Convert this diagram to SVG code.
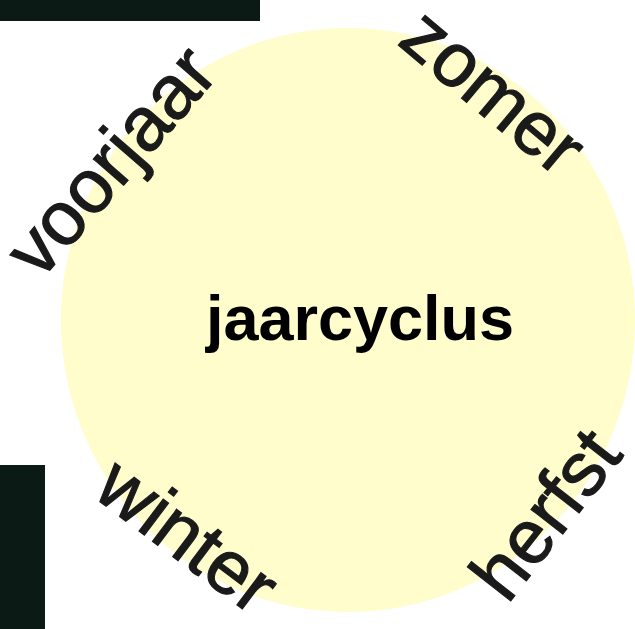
<svg xmlns="http://www.w3.org/2000/svg" width="635" height="629" viewBox="0 0 635 629">
<style>
.lbl{font-family:"Liberation Sans",Arial,sans-serif;font-size:76px;fill:#1a1a1a;stroke:#1a1a1a;stroke-width:1.2px;text-anchor:middle}
.title{font-family:"Liberation Sans",Arial,sans-serif;font-size:63px;font-weight:bold;fill:#000;text-anchor:middle}
.dark{fill:#0b1a15}
</style>
<rect width="635" height="629" fill="#ffffff"/>
<rect class="dark" x="0" y="0" width="260" height="21"/>
<rect class="dark" x="0" y="465" width="45" height="164"/>
<g id="cycle">
<ellipse cx="348" cy="320" rx="287" ry="292" fill="#fefdcb"/>
<text class="title" x="360" y="340">jaarcyclus</text>
</g>
<g id="voorjaar"><text class="lbl" transform="translate(130,178) rotate(-49)">voorjaar</text></g>
<g id="zomer"><text class="lbl" transform="translate(477,111) rotate(40)">zomer</text></g>
<g id="herfst"><text class="lbl" transform="translate(566,530) rotate(-52)">herfst</text></g>
<g id="winter"><text class="lbl" transform="translate(172,556) rotate(37)">winter</text></g>
<g id="connectors"></g>
</svg>
